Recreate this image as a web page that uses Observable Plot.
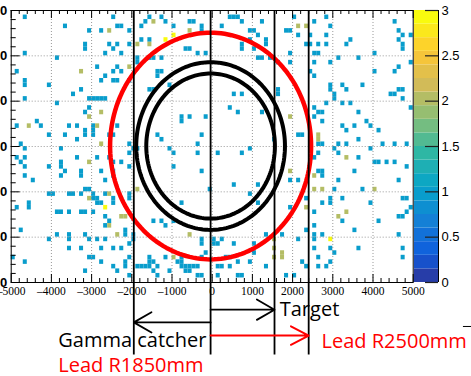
<!DOCTYPE html>
<html><head><meta charset="utf-8">
<script src="https://cdn.jsdelivr.net/npm/d3@7"></script>
<script src="https://cdn.jsdelivr.net/npm/@observablehq/plot@0.6"></script>
<style>
body{margin:0;background:#fff;}
#wrap{position:relative;width:471px;height:376px;overflow:hidden;background:#fff;}
#wrap svg{position:absolute;top:0;left:0;overflow:visible;}
</style></head><body><div id="wrap"></div>
<script>
// ---------- data (bin centres in mm, bins 100 mm x 100 mm) ----------
const hits1 = [
[-4650,2850],[-3650,2650],[-3050,2550],[-2750,2550],[-2450,2850],[-2350,2650],[-2250,2650],[-2050,2550],[-1750,2650],[-1650,2750],[-1550,2850],[-1750,2350],[-1550,2350],[-3150,2250],[-3150,2150],[-2550,2250],[-2450,2150],[-2350,2250],[-2050,2250],[-2650,2050],[-2250,2050],[-4650,2050],[-3850,1950],[-1550,1950],[-1450,1950],[-1850,1950],[-1850,1850],[-2850,1750],[-2450,1650],[-2350,1750],[-2250,1650],[-2750,1450],[-2650,1550],[-2450,1450],[-2350,1450],[-2050,1450],[-4650,1450],[-4650,1350],[-4050,1350],[-3250,1250],[-3450,1150],[-4650,1050],[-4850,1650],[-3050,1050],[-2950,1050],[-2850,1050],[-2750,1050],[-2650,1050],[-1550,1250],[-1450,1250],[-3850,950],[-3050,850],[-3150,750],[-4250,450],[-4350,550],[-4850,450],[-4050,250],[-3650,250],[-3550,450],[-3350,450],[-3150,350],[-3150,250],[-3350,150],[-2950,450],[-2950,350],[-2950,250],[-2550,250],[-2450,250],[-2350,450],[-2050,50],[-1950,-50],[-1850,-50],[-4750,50],[-4650,-50],[-3750,-50],
[-1250,2850],[-1150,2750],[-950,2650],[-550,2750],[-450,2750],[-250,2650],[-250,2550],[-650,2150],[-550,2150],[-350,2050],[-150,2050],[-1250,1950],[-1350,1650],[-1250,1650],[-1350,1550],[-1050,1350],[450,2850],[550,2850],[650,2850],[250,2650],[750,2750],[950,2550],[1050,2550],[1150,2450],[1250,2750],[1350,2350],[1350,2250],[1050,2150],[750,2150],[950,2350],[750,2250],[1150,1950],[1250,1950],[1450,1950],[1650,1850],[1950,1850],[1850,2550],[1950,2550],[2050,2850],[2350,2250],[2150,2450],[1950,2050],[1650,1250],[1650,1150],[550,1150],[750,1150],[450,850],[650,750],[1250,750],[-750,650],[-750,550],[-550,650],[-150,650],[-250,250],[-350,50],[-1350,250],[-1250,150],[-1050,-50],[1550,150],[950,-50],[2150,250],[2250,250],
[2550,2750],[2850,2850],[2950,2650],[2450,2450],[2450,2250],[2650,2250],[2850,2450],[2850,2250],[3350,2250],[3450,2350],[4550,2750],[4650,2550],[4750,2450],[4950,2450],[4650,2350],[4750,2250],[4750,2150],[2550,2050],[2650,2050],[2550,1850],[2950,1850],[3150,1950],[3650,1950],[4050,2050],[4950,1850],[4650,1750],[4550,1650],[2450,1650],[2550,1550],[4050,1650],[2950,1250],[2950,1350],[3050,1150],[3050,1050],[3250,1350],[3350,1250],[3750,1350],[4450,1150],[4550,1150],[4650,1250],[4750,1250],[4750,1050],[4950,850],[2550,850],[2550,650],[2650,750],[2750,750],[2750,550],[2850,950],[3250,950],[3450,950],[3650,750],[3850,550],[3950,450],[3250,450],[3350,350],[3550,450],[4150,350],[3650,150],[2650,50],[2750,50],[3150,50],[3350,50],[3050,-50],[3950,-50],[4250,50],[4550,50],[4850,50],
[-4850,-250],[-4650,-250],[-4750,-350],[-4650,-450],[-4650,-650],[-4450,-750],[-4050,-450],[-3750,-350],[-3750,-450],[-3650,-550],[-3750,-650],[-3350,-250],[-3250,-550],[-3250,-650],[-2850,-250],[-2750,-550],[-2550,-250],[-2450,-350],[-2250,-350],[-2050,-450],[-2050,-150],[-2450,-550],[-2450,-650],[-2650,-750],[-3050,-950],[-2950,-1050],[-3150,-950],[-3250,-1050],[-3550,-1050],[-3450,-1050],[-4050,-1050],[-3950,-1050],[-2950,-1150],[-2850,-1150],[-2750,-1250],[-2850,-1250],[-2650,-1050],[-2450,-1150],[-2450,-1250],[-2050,-1150],[-2050,-1050],[-3850,-1450],[-3750,-1450],[-3550,-1450],[-3250,-1450],[-3150,-1450],[-2950,-1450],[-2650,-1550],[-2550,-1650],[-4550,-1250],[-4550,-1350],[-4850,-1350],[-2650,-1750],[-4750,-1850],[-4050,-2050],[-3850,-1950],[-3550,-1950],[-3550,-2050],[-3150,-1950],[-3050,-2050],[-2850,-2050],[-2650,-2050],[-2150,-1850],[-2150,-1950],[-1950,-1950],[-1950,-2050],[-3550,-2250],[-3250,-2250],[-2750,-2250],[-2450,-2250],[-2250,-2250],[-2050,-2150],[-4950,-2450],[-4650,-2550],[-3150,-2750],[-3050,-2450],[-2950,-2450],[-2750,-2550],[-2450,-2650],[-2350,-2750],[-2150,-2550],[-2050,-2450],[-2150,-2650],[-1850,-2650],[-1750,-2650],[-1650,-2650],[-1550,-2650],[-1550,-2450],[-1550,-2550],[-1450,-2750],[-1350,-2850],[-2050,-2850],
[-950,-150],[-950,-450],[-350,-150],[150,-150],[750,-150],[-250,-550],[550,-850],[1150,-850],[-50,-950],[950,-1050],[1150,-1250],[-750,-1250],[-1450,-1650],[-1250,-1650],[-1150,-1750],[-950,-1650],[-250,-2050],[-250,-2150],[50,-2050],[50,-2150],[250,-2050],[150,-2150],[550,-2150],[1050,-2150],[1350,-1950],[1750,-1950],[1950,-750],[2150,-750],[1950,-1350],[2350,-1850],[2150,-2050],[-1150,-2450],[-750,-2450],[-850,-2550],[-750,-2550],[-650,-2650],[-550,-2650],[-750,-2650],[-650,-2750],[-550,-2750],[-450,-2650],[-350,-2650],[-250,-2450],[-150,-2350],[150,-2650],[250,-2650],[450,-2650],[350,-2450],[450,-2450],[650,-2550],[950,-2550],[1050,-2350],[1350,-2650],[-1450,-2550],[-1350,-2650],[650,-2850],[750,-2850],[150,-2850],[-250,-2850],[1850,-2850],[2050,-2850],[2250,-2550],[2350,-2650],[-350,-2850],[-1050,-2750],
[2550,-250],[2650,-150],[3150,-150],[3650,-250],[4050,-350],[4150,-350],[4350,-350],[4550,-350],[4850,-450],[3550,-550],[2650,-550],[2750,-550],[2750,-650],[3150,-750],[4650,-750],[3050,-950],[3750,-950],[2350,-1150],[2750,-1250],[2950,-1150],[2950,-1250],[3250,-1150],[3950,-1250],[2550,-1450],[3250,-1650],[2550,-1750],[3550,-1850],[4150,-1650],[4650,-1550],[4750,-1550],[4850,-1450],[4750,-1150],[4850,-1150],[4950,-1350],[2550,-1950],[2550,-2050],[2750,-1950],[3050,-2350],[2950,-2250],[2550,-2250],[3650,-2250],[4650,-1950],[4750,-2250],[2650,-2450],[2650,-2650],[2850,-2650],[2950,-2550],[4750,-2450]
];
const hits2 = [
[-2550,2550],[-1450,2750],[-1850,2250],[-1550,2250],[-2050,1750],[-3250,1650],[-3050,650],[-2750,750],[-2850,450],[-2750,50],[-4550,450],
[-550,2550],[2150,2650],[2350,2650],[1950,650],[2650,250],[2650,150],
[-3050,-350],[-2550,-1050],[-1850,-950],[-3050,-1150],[-2250,-1550],[-2150,-1550],[-2550,-1750],[-2350,-1950],
[-550,-1950],[1550,-2050],[1750,-2350],[1750,-2450],[1550,-2250],[1550,-2450],[1950,-550],[2350,-1350],[-950,-2450],
[3350,-250],[2550,-650],[2550,-950],[2750,-950],[4050,-950],[3350,-1450],[3150,-1550]
];
const hits3 = [[-950,2450],[-1150,2350],[-2650,-1350],[2950,-2050]];

const xTicks = [-5000,-4000,-3000,-2000,-1000,0,1000,2000,3000,4000,5000];
const xTickLabels = ["\u20135000","\u20134000","\u20133000","\u20132000","\u20131000","0","1000","2000","3000","4000","5000"];
const yTicks = [-3000,-2000,-1000,0,1000,2000,3000];
const yTickLabels = ["\u20133000","\u20132000","\u20131000","0","1000","2000","3000"];
const barTicks = [0,0.5,1,1.5,2,2.5,3];
const barTickLabels = ["0","0.5","1","1.5","2","2.5","3"];

// annotations
const circleCenter = [-40, 10];
const blackRadii = [1600, 1850];
const redRadii = [2500];
const guideX = [-1950, -40, 1550, 2400];
const guideTop = 3000, guideBottom = -4600;
const blackArrows = [{x1:-40, x2:1550, y:-3600}, {x1:-40, x2:-1950, y:-3880}];
const redArrows = [{x1:-40, x2:2400, y:-4170}];
const blackTexts = [{x:1680, y:-3730, t:"Target"}, {x:-3830, y:-4430, t:"Gamma catcher"}];
const redTexts = [{x:-3830, y:-4980, t:"Lead R1850mm"}, {x:2720, y:-4450, t:"Lead R2500mm"}];
const strayDash = [{x1:6250, x2:6500, y:-3970}];

// ---------- ROOT kBird palette, 20 contour levels on 0..3 ----------
const birdR = [0.2082,0.0592,0.0780,0.0232,0.1802,0.5301,0.8186,0.9956,0.9764];
const birdG = [0.1664,0.3599,0.5041,0.6419,0.7178,0.7492,0.7328,0.7862,0.9832];
const birdB = [0.5293,0.8684,0.8385,0.7914,0.6425,0.4662,0.3499,0.1968,0.0539];
const birdStops = birdR.map((r,i)=>d3.rgb(r*255, birdG[i]*255, birdB[i]*255).formatHex());
const bird = d3.piecewise(d3.interpolateRgb, birdStops);
const nLevels = 20, zMax = 3;
const levelEdges = d3.range(nLevels+1).map(i => i*zMax/nLevels);
const levelColors = d3.range(nLevels).map(i => bird(Math.min(254, Math.floor((i+0.99)*255/nLevels))/254));
const thresholds = levelEdges.slice(1, -1);

const cells = [
  ...hits1.map(([x,y])=>({x,y,v:1})),
  ...hits2.map(([x,y])=>({x,y,v:2})),
  ...hits3.map(([x,y])=>({x,y,v:3}))
];
const ring = (r) => d3.range(0, 361, 2).map(a => ({
  x: circleCenter[0] + r*Math.cos(a*Math.PI/180),
  y: circleCenter[1] + r*Math.sin(a*Math.PI/180)
}));
const xMinor = d3.range(-5000, 5001, 200).filter(v => v % 1000 !== 0);
const yMinor = d3.range(-3000, 3001, 200).filter(v => v % 1000 !== 0);

const serif = "'Liberation Serif', 'DejaVu Serif', serif";
const sans = "'Liberation Sans', Arial, sans-serif";
const anno = "'Open Sans', 'Noto Sans', sans-serif";

const colorScale = {type:"threshold", domain: thresholds, range: levelColors};

const main = Plot.plot({
  width: 471, height: 376,
  marginLeft: 10.7, marginRight: 58.3, marginTop: 10, marginBottom: 94,
  x: {domain: [-5000, 5000], axis: null},
  y: {domain: [-3000, 3000], axis: null},
  color: colorScale,
  style: {background: "white", fontFamily: sans, overflow: "visible"},
  marks: [
    Plot.rect(cells, {x1: d=>d.x-50, x2: d=>d.x+50, y1: d=>d.y-50, y2: d=>d.y+50, fill: "v"}),
    Plot.ruleX(xTicks.slice(1,-1), {stroke: "#999", strokeDasharray: "1,2", strokeWidth: 1}),
    Plot.ruleY(yTicks.slice(1,-1), {stroke: "#999", strokeDasharray: "1,2", strokeWidth: 1}),
    Plot.frame({stroke: "#000", strokeWidth: 1}),
    // bottom & top ticks (inward)
    Plot.tickX(xTicks, {insetTop: 264, stroke: "#000"}),
    Plot.tickX(xMinor, {insetTop: 268, stroke: "#000"}),
    Plot.tickX(xTicks, {insetBottom: 264, stroke: "#000"}),
    Plot.tickX(xMinor, {insetBottom: 268, stroke: "#000"}),
    // left ticks (inward)
    Plot.tickY(yTicks, {insetRight: 393, stroke: "#000"}),
    Plot.tickY(yMinor, {insetRight: 397, stroke: "#000"}),
    Plot.text(xTicks, {x: d=>d, text: (d,i)=>xTickLabels[i], frameAnchor: "bottom", lineAnchor: "top", dy: 4, fontSize: 11.5, fontFamily: serif, fill: "#000"}),
    Plot.text(yTicks, {y: d=>d, text: (d,i)=>yTickLabels[i], frameAnchor: "left", textAnchor: "end", dx: -4, fontSize: 13, fontWeight: "bold", fontFamily: sans, fill: "#000"}),
    // circles
    ...blackRadii.map(r => Plot.line(ring(r), {x: "x", y: "y", stroke: "#000", strokeWidth: 4})),
    ...redRadii.map(r => Plot.line(ring(r), {x: "x", y: "y", stroke: "#ff0000", strokeWidth: 4.5})),
    // guide lines
    Plot.ruleX(guideX, {y1: guideTop, y2: guideBottom, stroke: "#000", strokeWidth: 1.8}),
    // arrows
    Plot.arrow(blackArrows, {x1: "x1", x2: "x2", y1: "y", y2: "y", stroke: "#000", strokeWidth: 1.8, headLength: 17, headAngle: 60}),
    Plot.arrow(redArrows, {x1: "x1", x2: "x2", y1: "y", y2: "y", stroke: "#ff0000", strokeWidth: 2, headLength: 15, headAngle: 55}),
    Plot.text(blackTexts, {x: "x", y: "y", text: "t", textAnchor: "start", lineAnchor: "bottom", fontSize: 20, fontFamily: anno, fill: "#000"}),
    Plot.text(redTexts, {x: "x", y: "y", text: "t", textAnchor: "start", lineAnchor: "bottom", fontSize: 20, fontFamily: anno, fill: "#ff0000"}),
    Plot.ruleY(strayDash, {y: "y", x1: "x1", x2: "x2", stroke: "#000", strokeWidth: 1})
  ]
});

const bands = d3.range(nLevels).map(i => ({lo: levelEdges[i], hi: levelEdges[i+1], mid: (levelEdges[i]+levelEdges[i+1])/2}));
const bar = Plot.plot({
  width: 66, height: 376,
  marginLeft: 9, marginRight: 33, marginTop: 10, marginBottom: 94,
  x: {domain: [0, 1], axis: null},
  y: {domain: [0, 3], axis: null},
  color: colorScale,
  style: {background: "transparent", fontFamily: sans, overflow: "visible"},
  marks: [
    Plot.rect(bands, {x1: 0, x2: 1, y1: "lo", y2: "hi", fill: "mid"}),
    Plot.ruleX([1], {stroke: "#000", strokeWidth: 1}),
    Plot.tickY(barTicks, {insetLeft: 11, stroke: "#222", strokeWidth: 1.2}),
    Plot.text(barTicks, {y: d=>d, text: (d,i)=>barTickLabels[i], frameAnchor: "right", textAnchor: "start", dx: 3, fontSize: 13, fontFamily: sans, fill: "#000"})
  ]
});
bar.style.left = "405px";
const wrap = document.getElementById("wrap");
wrap.appendChild(main);
wrap.appendChild(bar);
</script>
</body></html>
